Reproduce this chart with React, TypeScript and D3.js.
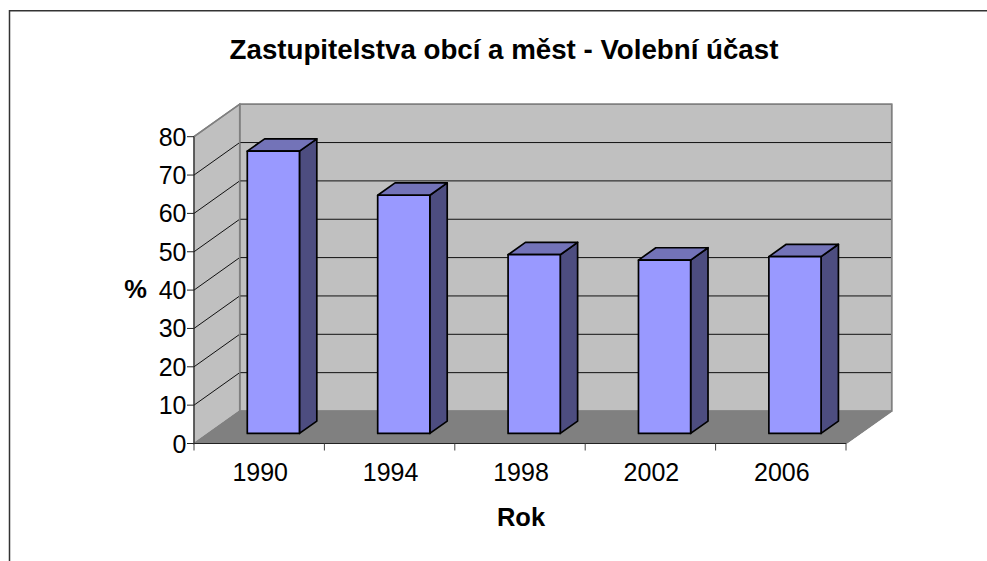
import React from "react";
import * as d3 from "d3";

const categories = ["1990", "1994", "1998", "2002", "2006"];
const turnout = [73.6, 62.1, 46.6, 45.2, 46.1];
const yTicks = [0, 10, 20, 30, 40, 50, 60, 70, 80];
const titleText = "Zastupitelstva obcí a měst - Volební účast";
const xTitle = "Rok";
const yTitle = "%";

const x = d3.scaleBand<string>().domain(categories).range([194, 846]).paddingInner(0).paddingOuter(0);
const y = d3.scaleLinear().domain([0, 80]).range([443.5, 136.7]);
// depth: 0 = front plane, 1 = back wall
const dx = d3.scaleLinear().domain([0, 1]).range([0, 45.7]);
const dy = d3.scaleLinear().domain([0, 1]).range([0, -32.5]);

const FONT = "'Liberation Sans', Arial, sans-serif";
const poly = (pts: [number, number][]) => d3.line()(pts) + "Z";

const barWidth = x.bandwidth() / 2.5;
const dFront = 0.31;
const dBack = 0.69;

export default function App() {
  const [x0, x1] = x.range();
  const y0 = y(0), yT = y(80);
  const bx = dx(1), by = dy(1);
  return (
    <svg width={987} height={561} style={{ position: "absolute", left: 0, top: 0, background: "#fff" }}>
      <path d="M9.5,561V10.8H987" fill="none" stroke="#333" strokeWidth={1.5} />
      <text x={504} y={58.5} textAnchor="middle" fontFamily={FONT} fontWeight="bold" fontSize={27.7} fill="#000">{titleText}</text>

      {/* walls */}
      <path d={poly([[x0 + bx, yT + by], [x1 + bx, yT + by], [x1 + bx, y0 + by], [x0 + bx, y0 + by]])} fill="#c0c0c0" stroke="#808080" strokeWidth={1.5} />
      <path d={poly([[x0, yT], [x0 + bx, yT + by], [x0 + bx, y0 + by], [x0, y0]])} fill="#c0c0c0" stroke="#808080" strokeWidth={1.5} />
      <path d={poly([[x0, y0], [x0 + bx, y0 + by], [x1 + bx, y0 + by], [x1, y0]])} fill="#808080" stroke="#808080" strokeWidth={1} />

      {/* gridlines */}
      {yTicks.filter(t => t > 0 && t < 80).map(t => (
        <path key={t} d={`M${x0},${y(t)}L${x0 + bx},${y(t) + by}H${x1 + bx}`} fill="none" stroke="#111" strokeWidth={1} />
      ))}
      <path d={`M${x0},${yT}L${x0 + bx},${yT + by}H${x1 + bx}V${y0 + by}L${x1},${y0}`} fill="none" stroke="#808080" strokeWidth={1.5} />
      <path d={`M${x0 + bx},${yT + by}V${y0 + by}`} fill="none" stroke="#808080" strokeWidth={1.5} />

      {/* axes */}
      <path d={`M${x0},${yT}V${y0}H${x1}`} fill="none" stroke="#222" strokeWidth={1} />
      {yTicks.map(t => (
        <g key={t}>
          <line x1={x0 - 7} x2={x0} y1={y(t)} y2={y(t)} stroke="#222" strokeWidth={1} />
          <text x={x0 - 7.5} y={y(t) + 9} textAnchor="end" fontFamily={FONT} fontSize={25} fill="#000">{t}</text>
        </g>
      ))}
      {[...categories.map(c => x(c)!), x1].map((p, i) => (
        <line key={i} x1={p} x2={p} y1={y0} y2={y0 + 7} stroke="#444" strokeWidth={1} />
      ))}
      {categories.map(c => (
        <text key={c} x={x(c)! + x.bandwidth() / 2 + 1} y={481} textAnchor="middle" fontFamily={FONT} fontSize={25} fill="#000">{c}</text>
      ))}

      {/* bars */}
      {categories.map((c, i) => {
        const left = x(c)! + (x.bandwidth() - barWidth) / 2 + dx(dFront);
        const right = left + barWidth;
        const bottom = y(0) + dy(dFront);
        const top = y(turnout[i]) + dy(dFront);
        const sx = dx(dBack - dFront), sy = dy(dBack - dFront);
        return (
          <g key={c} stroke="#000" strokeWidth={1.7} strokeLinejoin="round">
            <path d={poly([[right, top], [right + sx, top + sy], [right + sx, bottom + sy], [right, bottom]])} fill="#4d4d80" />
            <path d={poly([[left, top], [left + sx, top + sy], [right + sx, top + sy], [right, top]])} fill="#7373b8" />
            <path d={poly([[left, top], [right, top], [right, bottom], [left, bottom]])} fill="#9999ff" />
          </g>
        );
      })}

      <text x={135.5} y={298} textAnchor="middle" fontFamily={FONT} fontWeight="bold" fontSize={25.5} fill="#000">{yTitle}</text>
      <text x={521} y={526} textAnchor="middle" fontFamily={FONT} fontWeight="bold" fontSize={25.5} fill="#000">{xTitle}</text>
    </svg>
  );
}
